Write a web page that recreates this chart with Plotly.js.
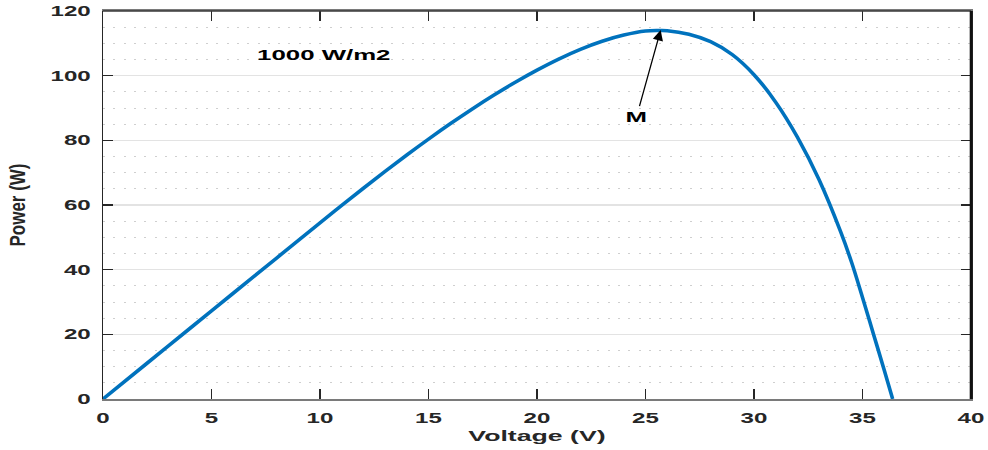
<!DOCTYPE html>
<html>
<head>
<meta charset="utf-8">
<script src="https://cdn.plot.ly/plotly-3.0.1.min.js"></script>
<style>
  html, body { margin: 0; padding: 0; background: #fff; }
  #chart { width: 988px; height: 450px; }
</style>
</head>
<body>
<div id="chart"></div>
<script>
// P-V characteristic of the PV module at 1000 W/m2
const voltage = [0, 2, 4, 6, 8, 10, 11, 12, 13, 14, 15, 16, 17, 18, 19, 20, 21, 22, 23, 24, 25, 25.6, 26, 27, 28, 29, 30, 31, 32, 33, 34, 34.5, 35, 35.5, 36, 36.39];
const power   = [0, 10.9, 21.8, 32.7, 43.6, 54.5, 59.88, 65.18, 70.38, 75.45, 80.37, 85.11, 89.64, 93.94, 97.98, 101.73, 105.15, 108.15, 110.65, 112.55, 113.8, 113.95, 113.9, 112.8, 110.5, 106.5, 100.3, 91.8, 81.0, 67.8, 51.6, 42.2, 31.4, 20.2, 9.0, 0];

const xTicks = [0, 5, 10, 15, 20, 25, 30, 35, 40];
const yTicks = [0, 20, 40, 60, 80, 100, 120];

const irradianceLabel = '1000 W/m2';
const mppLabel = 'M';
const mppVoltage = 25.7;
const mppPower = 114.1;

const boldFont = 'Liberation Sans, Arial, Helvetica, sans-serif';

const trace = {
  x: voltage,
  y: power,
  type: 'scatter',
  mode: 'lines',
  line: { color: '#0072BD', width: 3.6, shape: 'spline', smoothing: 1 },
  hoverinfo: 'skip'
};

const axisCommon = {
  ticks: 'inside',
  ticklen: 10,
  tickwidth: 1.5,
  tickcolor: '#262626',
  showline: true,
  mirror: 'ticks',
  zeroline: false,
  tickfont: { family: boldFont, size: 14, color: '#262626', weight: 'bold' }
};

const layout = {
  width: 988,
  height: 450,
  margin: { l: 103, r: 17, t: 11, b: 51 },
  paper_bgcolor: '#ffffff',
  plot_bgcolor: '#ffffff',
  showlegend: false,
  xaxis: Object.assign({}, axisCommon, {
    range: [0, 40],
    tickmode: 'array',
    tickvals: xTicks,
    ticktext: xTicks.map(String),
    showgrid: false,
    linecolor: '#7a7a7a',
    linewidth: 2,
    ticklabelstandoff: 5,
    title: {
      text: 'Voltage (V)',
      font: { family: boldFont, size: 15.5, color: '#262626', weight: 'bold' },
      standoff: 5
    }
  }),
  yaxis: Object.assign({}, axisCommon, {
    range: [0, 120],
    tickmode: 'array',
    tickvals: yTicks,
    ticktext: yTicks.map(String),
    showgrid: true,
    gridcolor: '#e3e3e3',
    gridwidth: 1.2,
    linecolor: '#262626',
    linewidth: 1.5,
    ticklabelstandoff: 8,
    minor: {
      dtick: 5,
      showgrid: true,
      gridcolor: '#cfcfcf',
      gridwidth: 1,
      griddash: '2px,8.3px',
      ticks: ''
    },
    title: {
      text: 'Power (W)',
      font: { family: boldFont, size: 22, color: '#262626', weight: 'bold' },
      standoff: 35
    }
  }),
  shapes: [
    // darker top and heavier right frame edges
    { type: 'line', xref: 'paper', yref: 'paper', x0: 0, x1: 1, y0: 1, y1: 1,
      line: { color: '#3a3a3a', width: 1.5 } },
    { type: 'line', xref: 'paper', yref: 'paper', x0: 1, x1: 1, y0: 0, y1: 1,
      line: { color: '#111111', width: 2.6 } }
  ],
  annotations: [
    {
      x: 10.2, y: 106.4, xref: 'x', yref: 'y',
      text: irradianceLabel, showarrow: false,
      font: { family: boldFont, size: 15, color: '#000', weight: 'bold' }
    },
    {
      x: mppVoltage, y: mppPower, xref: 'x', yref: 'y',
      text: mppLabel, showarrow: true,
      ax: -24, ay: 86,
      arrowhead: 2, arrowsize: 1.6, arrowwidth: 1.3, arrowcolor: '#000',
      standoff: 0, startstandoff: 0,
      font: { family: boldFont, size: 15, color: '#000', weight: 'bold' }
    }
  ]
};

// broad lettering for the horizontal labels, compact lettering for the vertical title
function adjustLabels() {
  const wide = document.querySelectorAll(
    '#chart g.xtick text, #chart g.ytick text, #chart .g-xtitle text, #chart .annotation-text'
  );
  wide.forEach(function (el) {
    const w = el.getComputedTextLength();
    if (w > 0) {
      el.setAttribute('textLength', (w * 1.72).toFixed(2));
      el.setAttribute('lengthAdjust', 'spacingAndGlyphs');
    }
  });
  const ytitle = document.querySelector('#chart .g-ytitle text');
  if (ytitle) {
    ytitle.setAttribute('textLength', '83');
    ytitle.setAttribute('lengthAdjust', 'spacingAndGlyphs');
  }
}

Plotly.newPlot('chart', [trace], layout, { displayModeBar: false, staticPlot: true })
  .then(adjustLabels);
</script>
</body>
</html>
